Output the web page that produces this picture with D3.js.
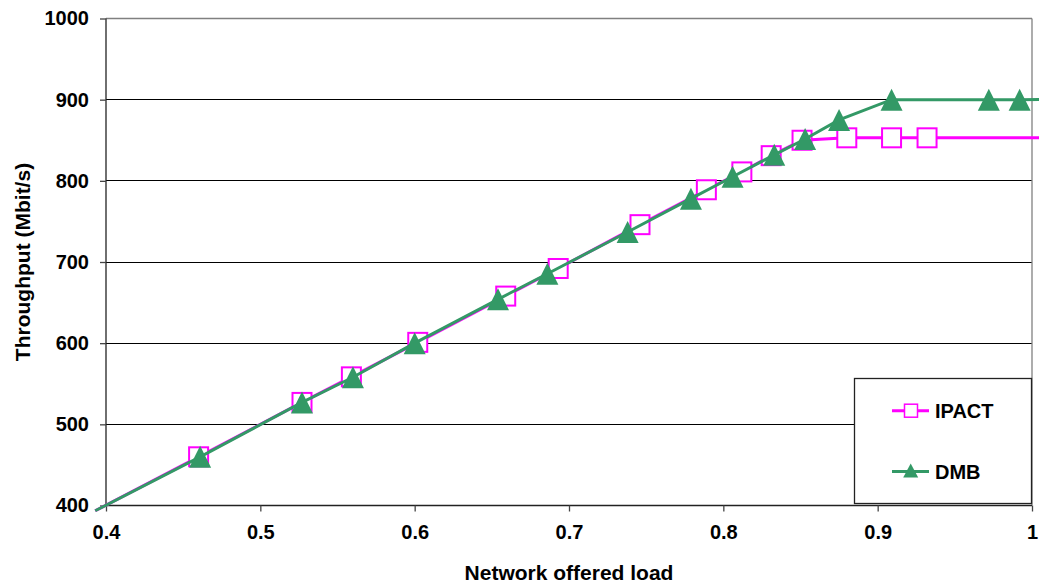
<!DOCTYPE html>
<html>
<head>
<meta charset="utf-8">
<script src="https://cdn.jsdelivr.net/npm/d3@7"></script>
<style>
  html, body { margin: 0; padding: 0; background: #fff; }
  svg { display: block; font-family: Arial, "Liberation Sans", sans-serif; }
</style>
</head>
<body>
<svg id="chart" width="1039" height="585"></svg>
<script>
// ---- data ----
const ipactLoad = [0.393, 0.460, 0.527, 0.559, 0.602, 0.659, 0.693, 0.746, 0.789, 0.812, 0.831, 0.851, 0.880, 0.909, 0.932, 1.06];
const ipactThroughput = [393.5, 460, 527, 558.5, 601, 658, 692, 746, 789, 811, 831, 850, 853, 853, 853, 853];
const dmbLoad = [0.393, 0.461, 0.527, 0.560, 0.600, 0.654, 0.686, 0.738, 0.779, 0.806, 0.833, 0.853, 0.875, 0.909, 0.972, 0.992, 1.06];
const dmbThroughput = [393.5, 460, 527, 558, 600, 654, 685.5, 737, 778, 805, 832, 851.5, 875, 900, 900, 900, 901];
const xTicks = [0.4, 0.5, 0.6, 0.7, 0.8, 0.9, 1.0];
const yTicks = [400, 500, 600, 700, 800, 900, 1000];
const seriesNames = ["IPACT", "DMB"];
const xTitle = "Network offered load";
const yTitle = "Throughput (Mbit/s)";

(function () {
const ipact = ipactLoad.map((x, i) => ({x, y: ipactThroughput[i]}));
const dmb = dmbLoad.map((x, i) => ({x, y: dmbThroughput[i]}));

const svg = d3.select("#chart");
const pLeft = 106, pRight = 1032, pTop = 18.5, pBottom = 505.5;

const x = d3.scaleLinear().domain([0.4, 1.0]).range([pLeft, pRight]);
const y = d3.scaleLinear().domain([400, 1000]).range([pBottom, pTop]);

const pink = "#FF00FF", green = "#339966";

// gridlines
svg.append("g")
  .selectAll("line").data(yTicks.filter(t => t > 400 && t < 1000)).join("line")
  .attr("x1", pLeft).attr("x2", pRight)
  .attr("y1", d => y(d)).attr("y2", d => y(d))
  .attr("stroke", "#000").attr("stroke-width", 1).attr("shape-rendering", "crispEdges");

// plot border top/right gray
svg.append("line").attr("x1", pLeft).attr("x2", pRight).attr("y1", pTop).attr("y2", pTop)
  .attr("stroke", "#808080").attr("stroke-width", 1.3);
svg.append("line").attr("x1", pRight).attr("x2", pRight).attr("y1", pTop).attr("y2", pBottom)
  .attr("stroke", "#808080").attr("stroke-width", 1.3);

// axes
const yAxis = d3.axisLeft(y).tickValues(yTicks).tickSize(6).tickPadding(11).tickFormat(d3.format("d"));
const xAxis = d3.axisBottom(x).tickValues(xTicks).tickSize(6).tickPadding(13).tickFormat(d => d === 1 ? "1" : d3.format(".1f")(d));

const gy = svg.append("g").attr("transform", `translate(${pLeft},0)`).call(yAxis);
const gx = svg.append("g").attr("transform", `translate(0,${pBottom})`).call(xAxis);
[gx, gy].forEach(g => {
  g.select(".domain").attr("stroke", "#222").attr("stroke-width", 1.3);
  g.selectAll(".tick line").attr("stroke", "#444").attr("stroke-width", 1.3);
  g.selectAll(".tick text").attr("fill", "#000").style("font-size", "20px").style("font-weight", "bold")
    .style("font-family", "Arial, 'Liberation Sans', sans-serif");
});
gy.select(".domain").attr("d", `M0,${pTop}V${pBottom}`);
gx.select(".domain").attr("d", `M${pLeft},0H${pRight}`);

// titles
svg.append("text").attr("x", (pLeft + pRight) / 2).attr("y", 580)
  .attr("text-anchor", "middle").style("font-size", "21px").style("font-weight", "bold").text(xTitle);
svg.append("text").attr("transform", `translate(30,${(pTop + pBottom) / 2}) rotate(-90)`)
  .attr("text-anchor", "middle").style("font-size", "21px").style("font-weight", "bold").text(yTitle);

// lines
const line = d3.line().x(d => x(d.x)).y(d => y(d.y));
const inDomain = d => d.x >= 0.4 && d.x <= 1.0;

svg.append("path").datum(ipact).attr("d", line).attr("fill", "none")
  .attr("stroke", pink).attr("stroke-width", 3);
svg.append("g").selectAll("rect").data(ipact.filter(inDomain)).join("rect")
  .attr("x", d => x(d.x) - 9.5).attr("y", d => y(d.y) - 9.5)
  .attr("width", 19).attr("height", 19)
  .attr("fill", "#fff").attr("stroke", pink).attr("stroke-width", 2);

svg.append("path").datum(dmb).attr("d", line).attr("fill", "none")
  .attr("stroke", green).attr("stroke-width", 3);
const tri = (cx, cy, w, h) => `M${cx},${cy - h / 2}L${cx + w / 2},${cy + h / 2}L${cx - w / 2},${cy + h / 2}Z`;
svg.append("g").selectAll("path").data(dmb.filter(inDomain)).join("path")
  .attr("d", d => tri(x(d.x), y(d.y), 22, 22)).attr("fill", green);

// legend
const lg = svg.append("g");
lg.append("rect").attr("x", 854.5).attr("y", 378.5).attr("width", 177).attr("height", 125)
  .attr("fill", "#fff").attr("stroke", "#222").attr("stroke-width", 1.3);
const legendItems = [
  {name: seriesNames[0], color: pink, ly: 410.7, type: "square"},
  {name: seriesNames[1], color: green, ly: 471.5, type: "triangle"}
];
legendItems.forEach(it => {
  lg.append("line").attr("x1", 892).attr("x2", 929).attr("y1", it.ly).attr("y2", it.ly)
    .attr("stroke", it.color).attr("stroke-width", 3);
  if (it.type === "square") {
    lg.append("rect").attr("x", 904.5).attr("y", it.ly - 6.5).attr("width", 13).attr("height", 13)
      .attr("fill", "#fff").attr("stroke", it.color).attr("stroke-width", 1.5);
  } else {
    lg.append("path").attr("d", tri(910.7, it.ly - 1, 15, 14)).attr("fill", it.color);
  }
  lg.append("text").attr("x", 935).attr("y", it.ly + 7.5)
    .style("font-size", "20px").style("font-weight", "bold").text(it.name);
});
})();
</script>
</body>
</html>
